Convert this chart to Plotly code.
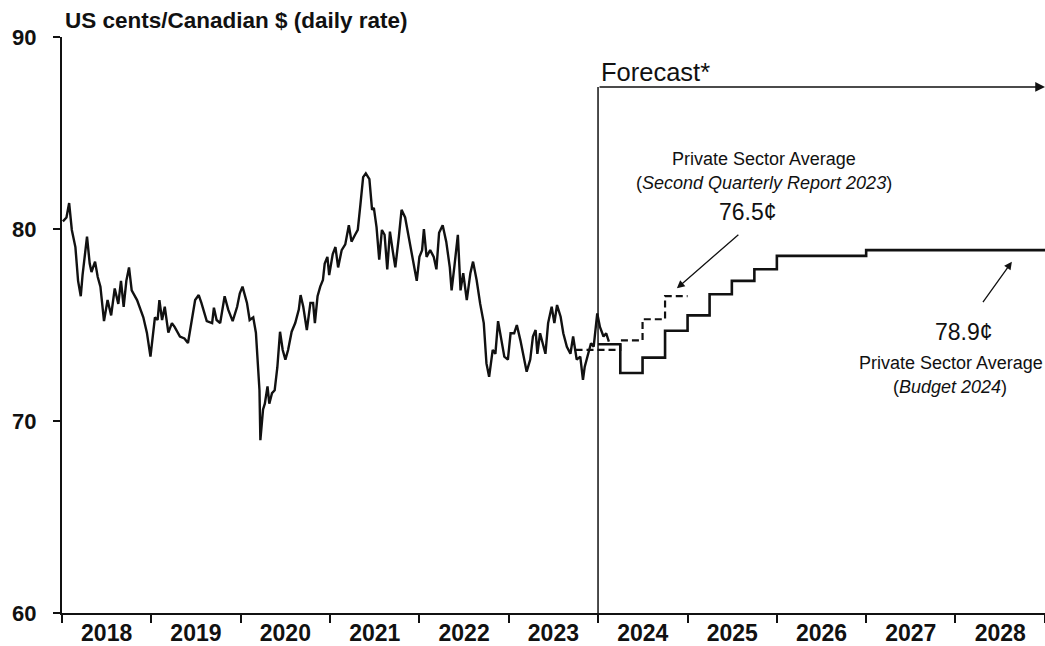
import numpy as np
import pandas as pd
import plotly.graph_objects as go

# ---------------- data ----------------
# historical daily exchange rate, read at irregular points (decimal year, US cents per C$)
hist_year = [
    2018.01, 2018.05, 2018.08, 2018.11, 2018.15, 2018.18, 2018.21, 2018.23, 2018.28, 2018.31,
    2018.33, 2018.37, 2018.40, 2018.43, 2018.47, 2018.51, 2018.55, 2018.59, 2018.63, 2018.66,
    2018.69, 2018.72, 2018.75, 2018.78, 2018.84, 2018.91, 2018.95, 2018.99, 2019.04, 2019.07,
    2019.09, 2019.12, 2019.15, 2019.19, 2019.23, 2019.26, 2019.32, 2019.37, 2019.41, 2019.44,
    2019.49, 2019.53, 2019.56, 2019.62, 2019.68, 2019.70, 2019.73, 2019.77, 2019.82, 2019.86,
    2019.91, 2019.96, 2019.99, 2020.02, 2020.07, 2020.10, 2020.14, 2020.17, 2020.21, 2020.22,
    2020.25, 2020.27, 2020.30, 2020.32, 2020.35, 2020.38, 2020.41, 2020.44, 2020.47, 2020.50,
    2020.53, 2020.57, 2020.61, 2020.65, 2020.67, 2020.70, 2020.74, 2020.78, 2020.81, 2020.83,
    2020.86, 2020.89, 2020.92, 2020.94, 2020.97, 2020.99, 2021.03, 2021.06, 2021.09, 2021.13,
    2021.17, 2021.21, 2021.24, 2021.28, 2021.31, 2021.34, 2021.37, 2021.40, 2021.44, 2021.47,
    2021.49, 2021.52, 2021.55, 2021.58, 2021.61, 2021.64, 2021.67, 2021.70, 2021.73, 2021.77,
    2021.80, 2021.84, 2021.88, 2021.92, 2021.94, 2021.97, 2022.00, 2022.03, 2022.05, 2022.08,
    2022.12, 2022.16, 2022.19, 2022.22, 2022.26, 2022.30, 2022.34, 2022.36, 2022.39, 2022.43,
    2022.46, 2022.49, 2022.53, 2022.57, 2022.60, 2022.64, 2022.68, 2022.72, 2022.75, 2022.78,
    2022.82, 2022.85, 2022.88, 2022.91, 2022.95, 2022.99, 2023.02, 2023.06, 2023.09, 2023.13,
    2023.16, 2023.20, 2023.24, 2023.27, 2023.30, 2023.32, 2023.35, 2023.38, 2023.41, 2023.44,
    2023.48, 2023.51, 2023.54, 2023.58, 2023.61, 2023.65, 2023.69, 2023.72, 2023.76, 2023.80,
    2023.83, 2023.85, 2023.89, 2023.92, 2023.95, 2023.99, 2024.02, 2024.06, 2024.09, 2024.12,
]
hist_rate = [
    80.4, 80.6, 81.35, 79.95, 79.06, 77.3, 76.5, 77.6, 79.6, 78.2,
    77.76, 78.3, 77.5, 77.0, 75.2, 76.3, 75.5, 76.9, 76.1, 77.3,
    75.95, 77.3, 78.0, 76.8, 76.3, 75.4, 74.6, 73.35, 75.4, 75.26,
    76.3, 75.26, 75.95, 74.6, 75.1, 74.9, 74.4, 74.3, 74.06, 74.9,
    76.3, 76.56, 76.15, 75.2, 75.1, 75.9, 75.26, 75.1, 76.5, 75.8,
    75.2, 75.95, 76.65, 77.0, 76.15, 75.26, 75.4, 74.6, 71.6, 69.0,
    70.6, 70.9, 71.8, 70.9, 71.45, 71.6, 72.8, 74.65, 73.7, 73.2,
    73.7, 74.65, 75.1, 75.8, 76.56, 75.95, 74.74, 76.15, 76.15, 75.1,
    76.5, 77.0, 77.34, 78.2, 78.55, 77.6, 78.7, 79.06, 78.0, 78.9,
    79.2, 80.2, 79.34, 79.7, 79.95, 81.3, 82.7, 82.9, 82.6, 81.0,
    81.1, 80.1, 78.4, 79.95, 79.7, 77.9, 79.86, 78.9, 78.0, 79.6,
    81.0, 80.6, 79.6, 78.55, 78.1, 77.3, 78.55, 78.9, 80.0, 78.55,
    78.9, 78.55, 77.9, 79.8, 80.2, 79.34, 78.0, 76.8, 78.0, 79.7,
    76.8, 77.7, 76.3, 77.7, 78.3, 77.34, 76.1, 75.1, 73.0, 72.3,
    73.7, 73.5, 75.2, 74.4, 73.35, 73.2, 74.57, 74.57, 75.0, 74.2,
    73.5, 72.57, 73.2, 74.4, 74.74, 73.5, 74.57, 74.05, 73.5, 75.1,
    75.95, 75.1, 76.04, 75.43, 74.57, 73.87, 73.5, 74.4, 73.2, 73.35,
    72.14, 72.83, 73.5, 74.05, 73.87, 75.6, 74.9, 74.4, 74.57, 74.13,
]

# Private sector average, Budget 2024 (quarterly, then annual)
b24_dates = ["2024-01-01", "2024-04-01", "2024-07-01", "2024-10-01", "2025-01-01",
             "2025-04-01", "2025-07-01", "2025-10-01", "2026-01-01", "2027-01-01", "2029-01-01"]
b24_rate = [74.0, 72.5, 73.3, 74.7, 75.5, 76.6, 77.3, 77.9, 78.6, 78.9, 78.9]

# Private sector average, Second Quarterly Report 2023
sqr_dates = ["2023-10-01", "2024-01-01", "2024-04-01", "2024-07-01", "2024-10-01", "2025-01-01"]
sqr_rate = [73.7, 73.7, 74.2, 75.3, 76.5, 76.5]

y_ticks = [60, 70, 80, 90]
forecast_start = "2024-01-01"


def yr2date(y):
    return pd.Timestamp("2018-01-01") + pd.to_timedelta((np.asarray(y) - 2018.0) * 365.25, unit="D")


FONT = "Arial, Liberation Sans, sans-serif"
BLACK = "#111111"

fig = go.Figure()

fig.add_trace(go.Scatter(x=yr2date(hist_year), y=hist_rate, mode="lines",
                         line=dict(color=BLACK, width=2.4), showlegend=False))
fig.add_trace(go.Scatter(x=b24_dates, y=b24_rate, mode="lines", line_shape="hv",
                         line=dict(color=BLACK, width=2.6), showlegend=False))
fig.add_trace(go.Scatter(x=sqr_dates, y=sqr_rate, mode="lines", line_shape="hv",
                         line=dict(color=BLACK, width=2.2, dash="7px,4px"), showlegend=False))

# forecast divider + arrow
fig.add_shape(type="line", xref="x", yref="y", x0=forecast_start, x1=forecast_start,
              y0=60, y1=87.4, line=dict(color=BLACK, width=1.5))
fig.add_annotation(x="2029-01-01", y=87.4, ax=forecast_start, ay=87.4, xref="x", yref="y",
                   axref="x", ayref="y", showarrow=True, arrowhead=2, arrowsize=1.3,
                   arrowwidth=1.5, arrowcolor=BLACK, text="")
fig.add_annotation(x=forecast_start, y=88.18, xref="x", yref="y", text="Forecast*",
                   showarrow=False, xanchor="left", yanchor="middle", xshift=1,
                   font=dict(family=FONT, size=25.5, color=BLACK))

# title
fig.add_annotation(x=0, y=1 + 17 / 576, xref="paper", yref="paper",
                   text="<b>US cents/Canadian $ (daily rate)</b>", showarrow=False,
                   xanchor="left", yanchor="middle", xshift=1,
                   font=dict(family=FONT, size=22.5, color=BLACK))

# SQR 2023 labels
fig.add_annotation(x=yr2date(2025.86), y=83.65, text="Private Sector Average", showarrow=False,
                   font=dict(family=FONT, size=18, color=BLACK))
fig.add_annotation(x=yr2date(2025.86), y=82.40, text="(<i>Second Quarterly Report 2023</i>)",
                   showarrow=False, font=dict(family=FONT, size=18, color=BLACK))
fig.add_annotation(x=yr2date(2025.68), y=80.89, text="76.5¢", showarrow=False,
                   font=dict(family=FONT, size=23, color=BLACK))
fig.add_annotation(x=yr2date(2024.881), y=76.91, ax=63, ay=-55, text="", showarrow=True,
                   arrowhead=2, arrowsize=1.2, arrowwidth=1.3, arrowcolor=BLACK)

# Budget 2024 labels
fig.add_annotation(x=yr2date(2028.09), y=74.64, text="78.9¢", showarrow=False,
                   font=dict(family=FONT, size=23, color=BLACK))
fig.add_annotation(x=yr2date(2027.95), y=73.02, text="Private Sector Average", showarrow=False,
                   font=dict(family=FONT, size=18, color=BLACK))
fig.add_annotation(x=yr2date(2027.94), y=71.77, text="(<i>Budget 2024</i>)", showarrow=False,
                   font=dict(family=FONT, size=18, color=BLACK))
fig.add_annotation(x=yr2date(2028.63), y=78.30, ax=-30, ay=42, text="", showarrow=True,
                   arrowhead=2, arrowsize=1.2, arrowwidth=1.3, arrowcolor=BLACK)

fig.update_layout(
    width=1045, height=646,
    margin=dict(l=62, r=0, t=37, b=33),
    paper_bgcolor="white", plot_bgcolor="white",
    showlegend=False,
)
fig.update_xaxes(
    type="date", range=["2018-01-01", "2029-01-01"],
    tick0="2018-01-01", dtick="M12", tickformat="<b>%Y</b>", ticklabelmode="period",
    ticks="outside", ticklen=8, tickwidth=1.5, tickcolor=BLACK,
    showline=True, linecolor=BLACK, linewidth=2, showgrid=False, zeroline=False,
    ticklabelstandoff=-10,
    tickfont=dict(family=FONT, size=23, color=BLACK),
)
fig.update_yaxes(
    range=[60, 90], tickvals=y_ticks, ticktext=[f"<b>{v}</b>" for v in y_ticks],
    ticks="outside", ticklen=7, tickwidth=1.5, tickcolor=BLACK,
    showline=True, linecolor=BLACK, linewidth=2, showgrid=False, zeroline=False,
    ticklabelstandoff=12,
    tickfont=dict(family=FONT, size=22, color=BLACK),
)

# remove the default 8px page margin so the 1045x646 figure fills the window exactly
fig.write_html("out.html", config={"displayModeBar": False},
               post_script="document.body.style.margin='0';document.body.style.overflow='hidden';")
